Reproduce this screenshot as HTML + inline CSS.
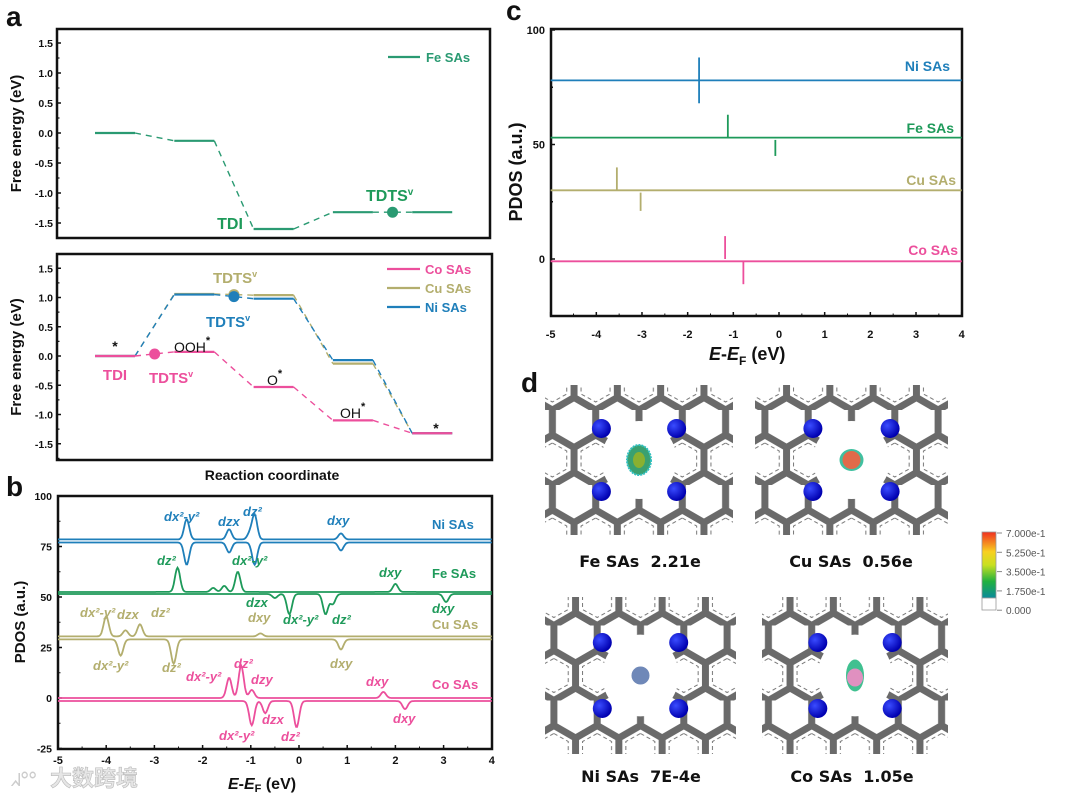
<!DOCTYPE html>
<html><head><meta charset="utf-8">
<style>
html,body{margin:0;padding:0;background:#fff;width:1080px;height:799px;overflow:hidden;}
svg{display:block;font-family:"Liberation Sans",Arial,sans-serif;}
</style></head>
<body>
<svg id="fig" width="1080" height="799" viewBox="0 0 1080 799" xmlns="http://www.w3.org/2000/svg">
<defs>
<radialGradient id="blueball" cx="35%" cy="35%" r="65%"><stop offset="0" stop-color="#3a4cff"/><stop offset="1" stop-color="#0000b0"/></radialGradient>
<linearGradient id="cbar" x1="0" y1="1" x2="0" y2="0">
<stop offset="0" stop-color="#0a8a9a"/><stop offset="0.25" stop-color="#20b040"/><stop offset="0.5" stop-color="#c8e020"/><stop offset="0.7" stop-color="#f8d020"/><stop offset="1" stop-color="#f03020"/></linearGradient>
</defs>
<g id="root"></g>
</svg>
<script>
const NS='http://www.w3.org/2000/svg';
const root=document.getElementById('root');
const defs=document.querySelector('defs');
function el(tag,attrs,parent,text){const e=document.createElementNS(NS,tag);for(const k in attrs)e.setAttribute(k,attrs[k]);if(text!==undefined)e.textContent=text;(parent||root).appendChild(e);return e;}

// ---------- DATA ----------
const stepIdx=[0,1,2,3,4];
const feLevels=[0,-0.13,-1.6,-1.32,-1.32];
const coLevels=[0,0.07,-0.53,-1.1,-1.32];
const cuLevels=[0,1.06,1.04,-0.13,-1.32];
const niLevels=[0,1.05,0.98,-0.07,-1.32];
const aTicks=[1.5,1.0,0.5,0.0,-0.5,-1.0,-1.5];
const aTickLabels=['1.5','1.0','0.5','0.0','-0.5','-1.0','-1.5'];
const niUpPeaks=[[-2.33,10],[-1.45,5],[-1.02,3],[-0.92,12],[0.87,3]];
const niDnPeaks=[[-2.33,-11],[-1.45,-5],[-0.92,-11],[0.87,-4]];
const feUpPeaks=[[-2.52,12],[-1.78,2],[-1.55,3],[-1.27,10],[2.0,4]];
const feDnPeaks=[[-0.5,-2],[-0.2,-10],[0.55,-10],[0.7,-5],[3.05,-4]];
const cuUpPeaks=[[-4.0,10],[-3.6,3],[-3.3,6],[-0.8,1.5]];
const cuDnPeaks=[[-3.7,-8],[-2.6,-12],[0.87,-5]];
const coUpPeaks=[[-1.45,10],[-1.2,16],[-0.98,4],[1.75,3]];
const coDnPeaks=[[-0.98,-12],[-0.7,-6],[-0.05,-13],[2.2,-4]];
const bBases=[[78.5,77],[52.5,51.5],[30.5,29],[0,-1.5]];
const bYTicks=[100,75,50,25,0,-25];
const eTicks=[-5,-4,-3,-2,-1,0,1,2,3,4];
const cBases=[78,53,30,-1];
const niSticks=[[-1.75,88,68]];
const feSticks=[[-1.12,63,53],[-0.08,52,45]];
const cuSticks=[[-3.55,40,30],[-3.03,29,21]];
const coSticks=[[-1.18,10,0],[-0.78,-1,-11]];
const cYTicks=[100,50,0];

const C={fe:'#1e9a5a',feA:'#2a9a72',ni:'#1f7fba',cu:'#b3ae6e',co:'#ec4f9c'};

function frame(x0,y0,x1,y1,name,sw){const r=el('rect',{x:x0,y:y0,width:x1-x0,height:y1-y0,fill:'none',stroke:'#111','stroke-width':sw||2.5});return r;}
function txt(x,y,s,o){o=o||{};const t=el('text',{x:x,y:y,'font-size':o.fs||12,'font-weight':o.fw||'bold',fill:o.fill||'#111','text-anchor':o.anchor||'start','font-style':o.fi||'normal'},o.parent,s);if(o.name){}return t;}

[['a',6,26],['b',6,496],['c',506,20],['d',521,392]].forEach(p=>{txt(p[1],p[2],p[0],{fs:28,name:'panel-label-'+p[0]});});

// ---------- Panel a ----------
function stepX(i){return 95+i*79.3;}
function drawLevels(levels,yv,color,name,dotAt){
  const g=el('g',{});
  levels.forEach((v,i)=>{
    const l=el('line',{x1:stepX(i),x2:stepX(i)+40,y1:yv(v),y2:yv(v),stroke:color,'stroke-width':2.2},g);
    
    if(i<levels.length-1){const c=el('line',{x1:stepX(i)+40,x2:stepX(i+1),y1:yv(v),y2:yv(levels[i+1]),stroke:color,'stroke-width':1.4,'stroke-dasharray':'6,5'},g);
      }
  });
  if(dotAt!==undefined){const xm=(stepX(dotAt)+40+stepX(dotAt+1))/2;const ym=(yv(levels[dotAt])+yv(levels[dotAt+1]))/2;
    const d=el('circle',{cx:xm,cy:ym,r:5.5,fill:color},g);}
}
function aAxis(x0,y0,x1,y1,yv,name){
  frame(x0,y0,x1,y1,name+'-frame');
  aTicks.forEach((v,i)=>{el('line',{x1:x0,x2:x0+4,y1:yv(v),y2:yv(v),stroke:'#111','stroke-width':1.5});
    el('line',{x1:x0,x2:x0+2.5,y1:yv(v-0.25),y2:yv(v-0.25),stroke:'#111','stroke-width':1.2});
    txt(x0-4,yv(v)+4,aTickLabels[i],{fs:10.5,anchor:'end',name:name+'-ytick'});});
  const t=txt(0,0,'Free energy (eV)',{fs:15,anchor:'middle',name:name+'-y-title'});
  t.setAttribute('transform',`translate(21,${(y0+y1)/2}) rotate(-90)`);
}
const yTop=e=>133-60*e;
aAxis(57,29,490,238,yTop,'a-top');
drawLevels(feLevels,yTop,C.feA,'fe-sas-energy',3);
el('line',{x1:388,x2:420,y1:57,y2:57,stroke:C.feA,'stroke-width':2.2});
txt(426,62,'Fe SAs',{fs:13,fill:C.feA,name:'legend-fe-sas'});
txt(230,229,'TDI',{fs:16,fill:C.fe,anchor:'middle',name:'fe-tdi-label'});
const tt=txt(366,201,'TDTS',{fs:16,fill:C.fe,name:'fe-tdts-label'});el('tspan',{'font-size':10,dy:-6},tt,'v');

const yBot=e=>356-58.5*e;
aAxis(57,254,492,460,yBot,'a-bottom');
drawLevels(cuLevels,yBot,C.cu,'cu-sas-energy',1);
drawLevels(niLevels,yBot,C.ni,'ni-sas-energy',1);
drawLevels(coLevels,yBot,C.co,'co-sas-energy',0);
[['Co SAs',C.co,269],['Cu SAs',C.cu,288],['Ni SAs',C.ni,307]].forEach(l=>{el('line',{x1:387,x2:420,y1:l[2],y2:l[2],stroke:l[1],'stroke-width':2.2});txt(425,l[2]+5,l[0],{fs:13,fill:l[1],name:'legend-'+l[0].toLowerCase().replace(' ','-')});});
txt(115,351,'*',{fs:14,anchor:'middle',name:'star-label'});
txt(115,380,'TDI',{fs:15,fill:C.co,anchor:'middle',name:'co-tdi-label'});
let t2=txt(149,383,'TDTS',{fs:15,fill:C.co,name:'co-tdts-label'});el('tspan',{'font-size':9,dy:-6},t2,'v');
t2=txt(174,352,'OOH',{fs:14,fw:'normal',name:'ooh-label'});el('tspan',{'font-size':11,dy:-8,'font-weight':'bold'},t2,'*');
t2=txt(267,385,'O',{fs:14,fw:'normal',name:'o-label'});el('tspan',{'font-size':11,dy:-8,'font-weight':'bold'},t2,'*');
t2=txt(340,418,'OH',{fs:14,fw:'normal',name:'oh-label'});el('tspan',{'font-size':11,dy:-8,'font-weight':'bold'},t2,'*');
txt(436,433,'*',{fs:14,anchor:'middle',name:'star-label-end'});
t2=txt(213,283,'TDTS',{fs:15,fill:C.cu,name:'cu-tdts-label'});el('tspan',{'font-size':9,dy:-6},t2,'v');
t2=txt(206,327,'TDTS',{fs:15,fill:C.ni,name:'ni-tdts-label'});el('tspan',{'font-size':9,dy:-6},t2,'v');
txt(272,480,'Reaction coordinate',{fs:14,anchor:'middle',name:'x-axis-title-a'});

// ---------- Panel b ----------
const bx=e=>299+48.2*e, by=v=>698-2.02*v;
frame(58,496,492,749,'b-frame');
bYTicks.forEach(v=>{el('line',{x1:58,x2:62,y1:by(v),y2:by(v),stroke:'#111','stroke-width':1.5});el('line',{x1:58,x2:60.5,y1:by(v-12.5),y2:by(v-12.5),stroke:'#111'});txt(52,by(v)+4,String(v),{fs:10.5,anchor:'end',name:'b-ytick'});});
eTicks.forEach(v=>{el('line',{x1:bx(v),x2:bx(v),y1:749,y2:745,stroke:'#111','stroke-width':1.5});if(v<4)el('line',{x1:bx(v+0.5),x2:bx(v+0.5),y1:749,y2:746.5,stroke:'#111'});txt(bx(v),764,String(v),{fs:11,anchor:'middle',name:'b-xtick'});});
function curve(base,peaks,color,name){
  let d='';for(let e=-5;e<=4.0001;e+=0.02){let v=base;peaks.forEach(p=>{v+=p[1]*Math.exp(-Math.pow((e-p[0])/0.075,2));});d+=(d?'L':'M')+bx(e).toFixed(1)+','+by(v).toFixed(1);}
  const p=el('path',{d:d,fill:'none',stroke:color,'stroke-width':1.8});
}
curve(bBases[0][0],niUpPeaks,C.ni,'ni-pdos-up');curve(bBases[0][1],niDnPeaks,C.ni,'ni-pdos-down');
curve(bBases[1][0],feUpPeaks,C.fe,'fe-pdos-up');curve(bBases[1][1],feDnPeaks,C.fe,'fe-pdos-down');
curve(bBases[2][0],cuUpPeaks,C.cu,'cu-pdos-up');curve(bBases[2][1],cuDnPeaks,C.cu,'cu-pdos-down');
curve(bBases[3][0],coUpPeaks,C.co,'co-pdos-up');curve(bBases[3][1],coDnPeaks,C.co,'co-pdos-down');
const bl=(x,y,s,c,nm)=>txt(x,y,s,{fs:13,fi:'italic',fill:c,name:nm||'orbital-label'});
bl(164,521,'dx²-y²',C.ni);bl(218,526,'dzx',C.ni);bl(243,516,'dz²',C.ni);bl(327,525,'dxy',C.ni);
txt(432,529,'Ni SAs',{fs:13,fill:C.ni,name:'b-ni-label'});
bl(157,565,'dz²',C.fe);bl(232,565,'dx²-y²',C.fe);bl(379,577,'dxy',C.fe);
txt(432,578,'Fe SAs',{fs:13,fill:C.fe,name:'b-fe-label'});
bl(246,607,'dzx',C.fe);bl(283,624,'dx²-y²',C.fe);bl(332,624,'dz²',C.fe);bl(432,613,'dxy',C.fe);
bl(80,617,'dx²-y²',C.cu);bl(117,619,'dzx',C.cu);bl(151,617,'dz²',C.cu);bl(248,622,'dxy',C.cu);
txt(432,629,'Cu SAs',{fs:13,fill:C.cu,name:'b-cu-label'});
bl(93,670,'dx²-y²',C.cu);bl(162,672,'dz²',C.cu);bl(330,668,'dxy',C.cu);
bl(186,681,'dx²-y²',C.co);bl(234,668,'dz²',C.co);bl(251,684,'dzy',C.co);bl(366,686,'dxy',C.co);
txt(432,689,'Co SAs',{fs:13,fill:C.co,name:'b-co-label'});
bl(219,740,'dx²-y²',C.co);bl(262,724,'dzx',C.co);bl(281,741,'dz²',C.co);bl(393,723,'dxy',C.co);
let t3=txt(0,0,'PDOS (a.u.)',{fs:15,anchor:'middle',name:'b-y-title'});t3.setAttribute('transform','translate(25,622) rotate(-90)');
t3=txt(228,789,'',{fs:16,name:'b-x-title'});el('tspan',{'font-style':'italic'},t3,'E');el('tspan',{},t3,'-');el('tspan',{'font-style':'italic'},t3,'E');el('tspan',{'font-size':11,dy:3},t3,'F');el('tspan',{dy:-3},t3,' (eV)');
const wm=txt(50,786,'大数跨境',{fs:22,fw:'bold',fill:'#e6e6e6',name:'watermark'});wm.setAttribute('font-family','"Liberation Sans","Noto Sans CJK SC",sans-serif');wm.setAttribute('stroke','#bbb');wm.setAttribute('stroke-width','0.6');
txt(10,786,'ᖽᐤᐤ',{fs:18,fw:'normal',fill:'#ccc',name:'watermark-logo'});

// ---------- Panel c ----------
const cx=e=>779+45.67*e, cy=v=>259-2.29*v;
frame(551,29,962,316,'c-frame');
[100,75,50,25,0,-25].forEach(v=>{const major=cYTicks.indexOf(v)>=0;el('line',{x1:551,x2:major?555:553,y1:cy(v),y2:cy(v),stroke:'#111','stroke-width':1.5});if(major)txt(545,cy(v)+4,String(v),{fs:11,anchor:'end',name:'c-ytick'});});
eTicks.forEach(v=>{el('line',{x1:cx(v),x2:cx(v),y1:316,y2:312,stroke:'#111','stroke-width':1.5});if(v<4)el('line',{x1:cx(v+0.5),x2:cx(v+0.5),y1:316,y2:313.5,stroke:'#111'});txt(cx(v),338,String(v),{fs:11,anchor:'middle',name:'c-xtick'});});
function cSeries(base,sticks,color,name){
  const l=el('line',{x1:cx(-5),x2:cx(4),y1:cy(base),y2:cy(base),stroke:color,'stroke-width':1.8});
  sticks.forEach((s,i)=>{const k=el('line',{x1:cx(s[0]),x2:cx(s[0]),y1:cy(s[1]),y2:cy(s[2]),stroke:color,'stroke-width':1.8});});
}
cSeries(cBases[0],niSticks,C.ni,'c-ni');cSeries(cBases[1],feSticks,C.fe,'c-fe');cSeries(cBases[2],cuSticks,C.cu,'c-cu');cSeries(cBases[3],coSticks,C.co,'c-co');
txt(950,71,'Ni SAs',{fs:14,fill:C.ni,anchor:'end',name:'c-ni-label'});
txt(954,133,'Fe SAs',{fs:14,fill:C.fe,anchor:'end',name:'c-fe-label'});
txt(956,185,'Cu SAs',{fs:14,fill:C.cu,anchor:'end',name:'c-cu-label'});
txt(958,255,'Co SAs',{fs:14,fill:C.co,anchor:'end',name:'c-co-label'});
t3=txt(0,0,'PDOS (a.u.)',{fs:18,anchor:'middle',name:'c-y-title'});t3.setAttribute('transform','translate(522,172) rotate(-90)');
t3=txt(709,360,'',{fs:18,name:'c-x-title'});el('tspan',{'font-style':'italic'},t3,'E');el('tspan',{},t3,'-');el('tspan',{'font-style':'italic'},t3,'E');el('tspan',{'font-size':12,dy:5},t3,'F');el('tspan',{dy:-5},t3,' (eV)');

// ---------- Panel d ----------
function makePattern(id,ox,oy){
  const p=el('pattern',{id:id,x:0,y:0,width:43.3,height:75,patternUnits:'userSpaceOnUse',patternTransform:`translate(${ox},${oy})`},defs);
  el('path',{d:'M21.65,0 L21.65,25 L0,37.5 L0,62.5 L21.65,75 M21.65,25 L43.3,37.5 L43.3,62.5 L21.65,75',fill:'none',stroke:'#6a6a6a','stroke-width':7},p);
  el('path',{d:'M21.65,33 L36,41 L36,59 L21.65,67 L7,59 L7,41 Z',fill:'none',stroke:'#777','stroke-width':1,'stroke-dasharray':'4,3'},p);
}
function structure(x,y,w,h,name,center){
  const g=el('g',{});
  const pid='hex-'+name;makePattern(pid,x+w/2-21.65,y+h/2-50);
  el('rect',{x:x,y:y,width:w,height:h,fill:`url(#${pid})`},g);
  const mx=x+w/2,my=y+h/2;
  el('ellipse',{cx:mx,cy:my,rx:w*0.2,ry:h*0.26,fill:'#fff'},g);
  [[-1,-1],[1,-1],[-1,1],[1,1]].forEach(s=>{el('circle',{cx:mx+s[0]*w*0.2,cy:my+s[1]*h*0.21,r:9.5,fill:'url(#blueball)'},g);});
  if(center==='fe'){el('ellipse',{cx:mx,cy:my,rx:12,ry:15,fill:'#3aa070',stroke:'#30c0c0','stroke-width':2,'stroke-dasharray':'2,1'},g);el('ellipse',{cx:mx,cy:my,rx:6,ry:8,fill:'#8ab030'},g);}
  if(center==='cu'){el('ellipse',{cx:mx,cy:my,rx:12,ry:11,fill:'#40c0a0'},g);el('circle',{cx:mx,cy:my,r:9,fill:'#e06a4a'},g);}
  if(center==='ni'){el('circle',{cx:mx,cy:my,r:9,fill:'#6f88b8'},g);}
  if(center==='co'){el('ellipse',{cx:mx,cy:my,rx:9,ry:16,fill:'#40c090'},g);el('ellipse',{cx:mx,cy:my+2,rx:8,ry:9,fill:'#e090c0'},g);}
}
structure(545,385,188,150,'fe-sas-structure','fe');
structure(755,385,193,150,'cu-sas-structure','cu');
structure(545,597,191,157,'ni-sas-structure','ni');
structure(762,597,186,157,'co-sas-structure','co');
const dl=(x,y,s,n)=>{const t=txt(x,y,s,{fs:16,anchor:'middle',name:n});t.setAttribute('font-family','"DejaVu Sans","Liberation Sans",sans-serif');};
dl(640,567,'Fe SAs\u00a0\u00a02.21e','fe-charge-label');dl(851,567,'Cu SAs\u00a0\u00a00.56e','cu-charge-label');
dl(641,782,'Ni SAs\u00a0\u00a07E-4e','ni-charge-label');dl(852,782,'Co SAs\u00a0\u00a01.05e','co-charge-label');
const cb=el('rect',{x:982,y:532,width:14,height:66,fill:'url(#cbar)',stroke:'#999','stroke-width':0.8});
el('rect',{x:982,y:598,width:14,height:12,fill:'#fff',stroke:'#999','stroke-width':0.8});
['7.000e-1','5.250e-1','3.500e-1','1.750e-1','0.000'].forEach((s,i)=>{const yy=533+i*19.3;el('line',{x1:997,x2:1002,y1:yy,y2:yy,stroke:'#888'});txt(1006,yy+4,s,{fs:10,fw:'normal',fill:'#555',name:'colorbar-tick'});});
</script>
</body></html>
